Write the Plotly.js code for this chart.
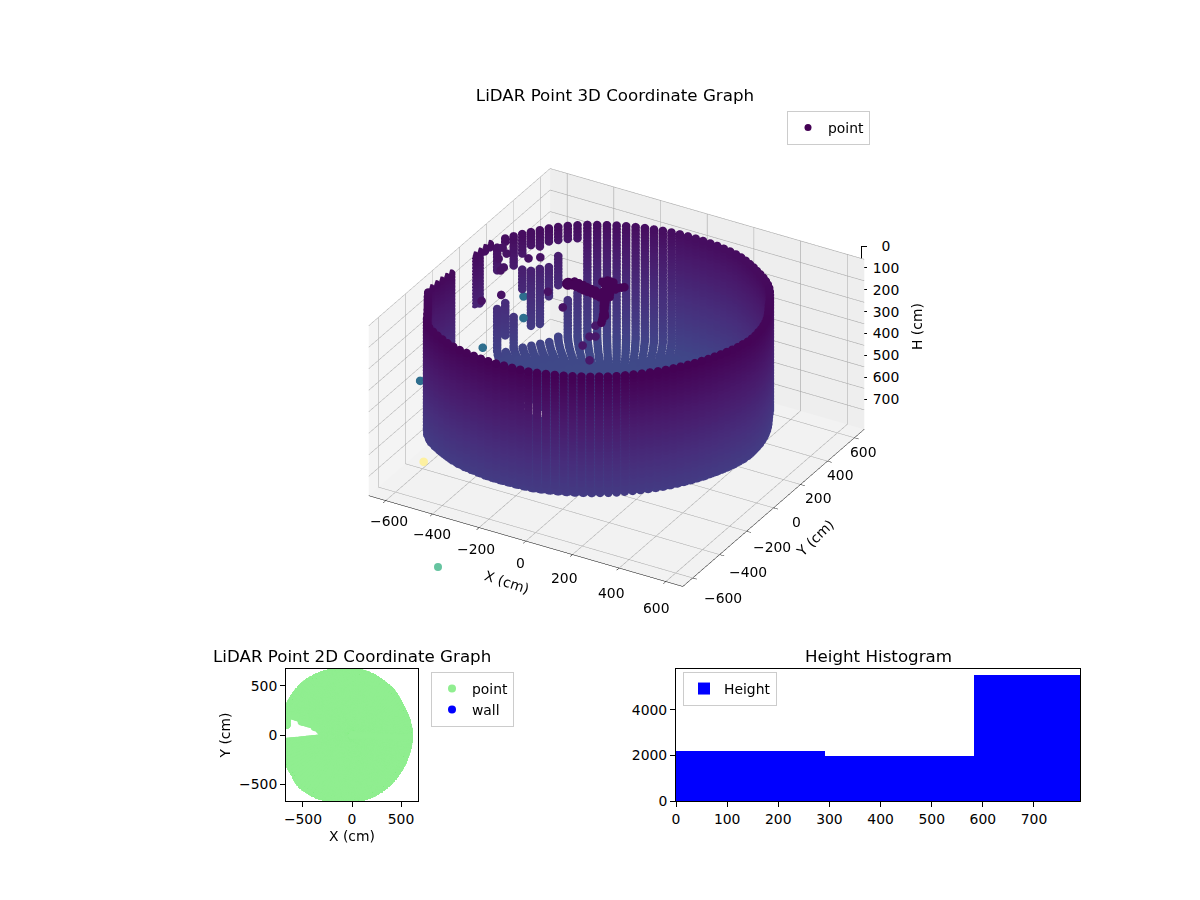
<!DOCTYPE html>
<html><head><meta charset="utf-8"><script src="https://cdn.plot.ly/plotly-3.0.1.min.js"></script>
<style>html,body{margin:0;padding:0;background:#fff}</style></head><body><div id="chart" style="width:1200px;height:900px"></div>
<script>
const columnAzimuth=[0,3,6,9,12,15,18,21,24,27,30,33,36,39,42,45,48,51,54,57,60,63,66,69,72,75,78,81,84,87,90,93,96,99,102,105,108,111,114,117,120,123,126,129,132,135,138,141,144,147,150,153,156,159,162,165,168,171,174,177,180,183,186,189,192,195,198,201,204,207,210,213,216,219,222,225,228,231,234,237,240,243,246,249,252,255,258,261,264,267,270,273,276,279,282,285,288,291,294,297,300,303,306,309,312,315,318,321,324,327,330,333,336,339,342,345,348,351,354,357];
const columnRadius=[580,578,576,575,573,572,570,568,566,565,565,568,572,576,581,586,590,593,596,598,601,606,611,616,621,626,629,632,635,638,641,646,650,654,658,662,666,670,674,678,682,686,690,694,698,700,701,701,700,700,700,701,703,704,703,692,684,677,672,671,671,671,672,677,684,692,704,708,704,701,700,702,706,712,718,720,716,712,708,704,700,694,688,682,678,674,669,664,660,657,654,650,645,640,636,632,628,624,620,617,613,608,604,600,597,594,591,588,585,583,581,580,579,578,578,578,578,579,579,580];
const columnTilt=[-28,-25,-23,-20,-17,-15,-12,-9,-6,-3,0,3,6,9,12,14,17,20,23,25,28,30,33,35,37,40,42,44,45,47,48,50,51,52,53,54,55,55,56,56,56,56,56,55,55,54,53,52,51,50,48,47,45,44,42,40,37,35,33,30,28,25,23,20,17,14,12,9,6,3,0,-3,-6,-9,-12,-14,-17,-20,-23,-25,-28,-30,-33,-35,-37,-40,-42,-44,-45,-47,-48,-50,-51,-52,-53,-54,-55,-55,-56,-56,-56,-56,-56,-55,-55,-54,-53,-52,-51,-50,-48,-47,-45,-44,-42,-40,-37,-35,-33,-30];
const ringHeight=[60,75,90,105,120,135,150,165,180,195,210,225,240,255,270,285,300,315,330,345,360,375,390,405,420,435,450,465,480,495,510,525,540,555,570,578,586,594,602,610,617,623,629,634,638,642,645,646,646,647,647,648,648,648,649,649,649,650,650,650,650,650,650,650,650,650,650,650,650,650,650,650,650,650,650,650,650,650,650,650];
const ringFraction=[1,1,1,1,1,1,1,1,1,1,1,1,1,1,1,1,1,1,1,1,1,1,1,1,1,1,1,1,1,1,1,1,1,1,1,1,0.995,0.99,0.98,0.97,0.955,0.94,0.92,0.9,0.875,0.85,0.82,0.795,0.77,0.745,0.72,0.695,0.67,0.645,0.62,0.595,0.57,0.545,0.52,0.495,0.47,0.445,0.42,0.395,0.37,0.345,0.32,0.295,0.27,0.245,0.22,0.195,0.17,0.145,0.12,0.095,0.07,0.05,0.03,0.015];
const sparseAzimuth=[132,135,138,141,144,147,150,153,156,159,162,165,168,171,174,177,180,183];
const sparseKeptFrom=[[60,370],[60,395],[60,190,560],[60,234],[60,235],[60,226],[60,223],[60,429],[60,351],[88,367],[60],[60],[60],[60],[9999],[9999],[9999],[9999]];
const sparseKeptTo=[[130,590],[130,590],[125,330,640],[125,389],[135,506],[133,497],[153,316],[196,600],[88,522],[196,570],[85],[85],[308],[285],[9999],[9999],[9999],[9999]];
const floorHoleAzimuth=[162,165,168,171,174,177,180,183];
const floorHoleFraction=[0.95,0.78,0.58,0.5,0.48,0.45,0.45,0.46];
const blobX=[-213,-195,-177,-157,-138,-120,-101,-80,-61,-59,-98,-85,-72,-19,-28,-37,-46,-55,-60,-48,-37,-26,-16,-5,6,15,25,32,39,-70,-40,-30,-200,-180,-160,-140,-120,-100,-80,-110,-95,-80,-65,-40,-50,-60,-70,-25,-15,-5,5,15,25];
const blobY=[9,7,5,0,-5,-7,-9,-14,-19,-1,103,102,101,91,82,72,58,44,15,-8,-30,-49,-68,-87,-106,-126,-146,-163,-180,10,20,0,35,32,28,22,18,15,5,85,75,65,55,60,45,35,25,-40,-60,-80,-100,-115,-130];
const blobH=[30,30,30,30,30,30,30,30,30,30,30,30,30,30,30,30,30,30,30,30,30,30,30,30,30,30,30,30,30,30,30,30,30,30,30,30,30,30,30,30,30,30,30,30,30,30,30,30,30,30,30,30,30];
const strayX=[-601,-573,-566,-524,-523,-471,-430,-186,-444,-478,-292,96,19,8,-13,27,-632,-552,-573,-655];
const strayY=[195,117,164,70,45,-186,-111,-77,203,174,-4,-367,-285,-215,-134,-203,404,265,-1,-323];
const strayH=[85,85,85,85,85,85,85,85,85,85,85,85,85,85,85,85,435,435,435,440];
const strayColor=[150,150,150,150,150,150,150,150,150,150,150,200,200,200,200,200,1150,1150,1150,1150];
const paleOutlierX=[-499];
const paleOutlierY=[-567];
const paleOutlierH=[635];
const farOutlierX=[438];
const farOutlierY=[567];
const farOutlierColor=['#66c4a0'];
const histCenters=[145.5,436.5,727.5];
const histCounts=[2200,1980,5540];
const histWidth=[291,291,291];
const hTicks=[0,100,200,300,400,500,600,700];
const hTickText=['\u20070\u2007','100','200','300','400','500','600','700'];
const xTickText=['\u2212600','\u2212400','\u2212200','0','200','400','600'];
const xTickLabelLeft=[389,432,476,520,564,611,656];
const xTickLabelTop=[521,534,549,563,578,593,608];
const yTickText=['600','400','200','0','\u2212200','\u2212400','\u2212600'];
const yTickLabelLeft=[863,840,818,796,772,748,723];
const yTickLabelTop=[452,475,498,522,547,572,598];
const tickFont={family:'DejaVu Sans',size:13.9,color:'#000'};

const xs=[],ys=[],hs=[],cs=[];
columnAzimuth.forEach((az,i)=>{
  const sp=sparseAzimuth.indexOf(az), fh=floorHoleAzimuth.indexOf(az);
  const rad=az*Math.PI/180;
  ringHeight.forEach((h,j)=>{
    const f=ringFraction[j];
    if(sp>=0&&f===1&&!sparseKeptFrom[sp].some((a,k)=>h>=a&&h<=sparseKeptTo[sp][k])) return;
    if(fh>=0&&h>=570&&f>floorHoleFraction[fh]) return;
    const hv=h+columnTilt[i];
    xs.push(columnRadius[i]*f*Math.cos(rad));ys.push(columnRadius[i]*f*Math.sin(rad));hs.push(hv);cs.push(hv);
  });
});
const planCount=xs.length;
blobX.forEach((v,i)=>{xs.push(v);ys.push(blobY[i]);hs.push(blobH[i]);cs.push(blobH[i]);});
strayX.forEach((v,i)=>{xs.push(v);ys.push(strayY[i]);hs.push(strayH[i]);cs.push(strayColor[i]);});

const ax3={showticklabels:false,showbackground:true,gridcolor:'#a8a8a8',gridwidth:1.2,showspikes:false,zeroline:false,showline:true,linecolor:'#000',linewidth:1,ticks:'outside',ticklen:5,tickcolor:'#000',title:{text:''}};
const traces=[
 {type:'scatter3d',mode:'markers',name:'point',x:blobX.slice(0,1),y:blobY.slice(0,1),z:blobH.slice(0,1),legend:'legend',scene:'scene',marker:{size:7,color:'#440154',opacity:1},hoverinfo:'skip'},
 {type:'scatter3d',mode:'markers',name:'point',showlegend:false,x:xs,y:ys,z:hs,scene:'scene',
  marker:{size:5,color:cs,colorscale:'Viridis',cmin:0,cmax:3200,opacity:1,line:{width:0}},hoverinfo:'skip'},
 {type:'scatter3d',mode:'markers',x:paleOutlierX,y:paleOutlierY,z:paleOutlierH,showlegend:false,scene:'scene',marker:{size:5,color:'#fdf0a0',opacity:1},hoverinfo:'skip'},
 {type:'scatter',mode:'markers',x:xs.slice(0,planCount),y:ys.slice(0,planCount),name:'point',xaxis:'x',yaxis:'y',legend:'legend2',marker:{size:8,color:'#90EE90'},hoverinfo:'skip'},
 {type:'scatter',mode:'markers',x:[null],y:[null],name:'wall',xaxis:'x',yaxis:'y',legend:'legend2',marker:{size:8,color:'#0000ff'}},
 {type:'bar',x:histCenters,y:histCounts,width:histWidth,name:'Height',xaxis:'x2',yaxis:'y2',legend:'legend3',marker:{color:'#0000ff',line:{width:0}},hoverinfo:'skip'},
 {type:'scatter',mode:'markers',x:farOutlierX,y:farOutlierY,xaxis:'x3',yaxis:'y3',showlegend:false,marker:{size:8,color:farOutlierColor},hoverinfo:'skip'},
 {type:'scatter',mode:'markers',x:[null],y:[null],xaxis:'x3',yaxis:'y4',showlegend:false,hoverinfo:'skip'}
];
const box=(extra)=>Object.assign({showline:true,mirror:true,linecolor:'#000',linewidth:1,ticks:'outside',ticklen:5,tickcolor:'#000',tickfont:tickFont,showgrid:false,zeroline:false},extra);
const legendBase={font:{family:'DejaVu Sans',size:13.9,color:'#000'},bgcolor:'rgba(255,255,255,0.8)',bordercolor:'#cccccc',borderwidth:1,xanchor:'left',yanchor:'top'};
const titleFont={family:'DejaVu Sans',size:16.7,color:'#000'};
const note=(text,px,py,font,angle)=>({text,xref:'paper',yref:'paper',x:px/1200,y:1-py/900,xanchor:'center',yanchor:'middle',showarrow:false,font,textangle:angle||0});
const notes=[
  note('LiDAR Point 2D Coordinate Graph',352,656,titleFont),
  note('Height Histogram',878,656,titleFont),
  note('H (cm)',917,327,tickFont,-90),
  note('X (cm)',507,582,tickFont,18),
  note('Y (cm)',815,538,tickFont,-44)
];
xTickText.forEach((t,i)=>notes.push(note(t,xTickLabelLeft[i],xTickLabelTop[i],tickFont)));
yTickText.forEach((t,i)=>notes.push(note(t,yTickLabelLeft[i],yTickLabelTop[i],tickFont)));
const layout={width:1200,height:900,autosize:false,margin:{l:0,r:0,t:0,b:0},paper_bgcolor:'#fff',plot_bgcolor:'rgba(0,0,0,0)',showlegend:true,
 title:{text:'LiDAR Point 3D Coordinate Graph',font:titleFont,x:615/1200,xanchor:'center',y:1-95/900,yanchor:'middle'},
 scene:{domain:{x:[33/1200,1],y:[1-755/900,1]},aspectmode:'manual',aspectratio:{x:0.961,y:0.961,z:0.52},
  camera:{projection:{type:'orthographic'},eye:{x:0.872,y:-1.51,z:1.008},center:{x:0,y:0,z:0},up:{x:0,y:0,z:1}},
  xaxis:Object.assign({},ax3,{range:[-673,673],dtick:200,tick0:0,backgroundcolor:'#f4f4f4'}),
  yaxis:Object.assign({},ax3,{range:[-673,673],dtick:200,tick0:0,backgroundcolor:'#eeeeee'}),
  zaxis:Object.assign({},ax3,{range:[790,0],dtick:100,tick0:0,ticks:'',showline:false,backgroundcolor:'#f2f2f2'})},
 xaxis:box({domain:[286/1200,418/1200],range:[-673,673],tickvals:[-500,0,500],title:{text:'X (cm)',font:tickFont,standoff:5},anchor:'y'}),
 yaxis:box({domain:[1-801/900,1-669/900],range:[-673,673],tickvals:[-500,0,500],title:{text:'Y (cm)',font:tickFont,standoff:5},anchor:'x'}),
 xaxis2:box({domain:[676/1200,1080/1200],range:[0,790],dtick:100,anchor:'y2'}),
 yaxis2:box({domain:[1-801/900,1-669/900],range:[0,5800],tickvals:[0,2000,4000],anchor:'x2'}),
 xaxis3:{domain:[0,1],range:[0,1200],visible:false,anchor:'y3',fixedrange:true},
 yaxis3:{domain:[0,1],range:[900,0],visible:false,anchor:'x3',fixedrange:true},
 yaxis4:{domain:[1-419/900,1-246/900],range:[790,0],anchor:'free',position:861/1200,side:'right',tickmode:'array',tickvals:hTicks,ticktext:hTickText,tickfont:tickFont,ticks:'outside',ticklen:5,tickcolor:'#000',showline:true,linecolor:'#000',linewidth:1,showgrid:false,zeroline:false,fixedrange:true,ticklabelstandoff:3},
 bargap:0,
 legend:Object.assign({},legendBase,{x:787/1200,y:1-111/900}),
 legend2:Object.assign({},legendBase,{x:431/1200,y:1-672/900}),
 legend3:Object.assign({},legendBase,{x:683/1200,y:1-672/900}),
 annotations:notes};
Plotly.newPlot(document.getElementById('chart'),traces,layout,{displayModeBar:false});
</script></body></html>
